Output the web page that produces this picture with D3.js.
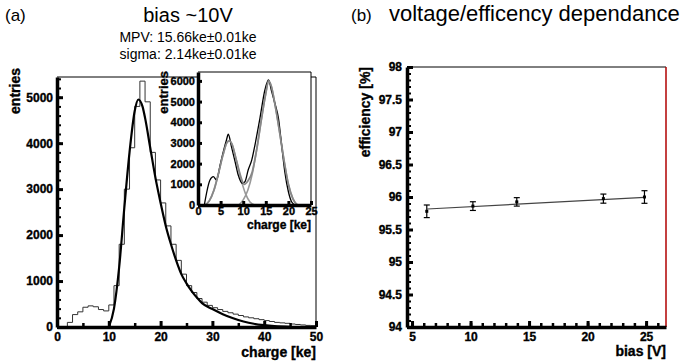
<!DOCTYPE html>
<html>
<head>
<meta charset="utf-8">
<script src="https://cdn.jsdelivr.net/npm/d3@7"></script>
<style>
  body { margin: 0; background: #fff; }
  svg { font-family: "Liberation Sans", Arial, sans-serif; }
  .heavy { font-weight: bold; stroke: #000; stroke-width: 0.35px; }
</style>
</head>
<body>
<svg id="chart" width="684" height="364"></svg>
<script>
// ---- panel (a): charge histogram, 1 ke bins starting at 0 ----
const histCounts = [0, 0, 100, 270, 330, 430, 460, 440, 380, 350,
    480, 900, 1800, 3000, 3900, 4800, 5350, 4900, 3800, 3200,
    2700, 2200, 1800, 1450, 1150, 900, 750, 620, 540, 470,
    420, 380, 340, 310, 280, 250, 220, 200, 180, 160,
    140, 120, 100, 90, 80, 65, 55, 45, 35, 30];

// landau-gauss fit curve
const fitCharge = [10, 11, 12, 13, 14, 15, 15.7, 16.5, 17, 18, 19, 20, 21, 22, 23, 24, 25, 26, 27, 28, 30, 32, 34, 36, 38, 40, 42, 45];
const fitEntries = [0, 400, 1300, 2600, 3800, 4700, 4950, 4800, 4550, 3900, 3250, 2700, 2200, 1800, 1450, 1150, 950, 780, 640, 520, 390, 280, 190, 120, 70, 40, 20, 5];

// inset: measured spectrum + two gaussians + sum
const insetCharge = [1.4, 2.65, 3.4, 4.1, 4.9, 5.6, 6.3, 6.7, 7.4, 8.2, 8.9, 9.8, 10.4, 11.1, 11.9, 12.6, 13.7, 14.8, 15.6, 16.3, 17, 17.8, 18.5, 19.2, 20, 20.7, 21.5];
const insetEntries = [0, 1210, 1370, 1210, 1935, 2580, 3145, 3420, 2820, 2100, 1450, 1050, 1130, 1690, 2180, 2900, 4190, 5560, 6050, 5480, 4920, 4190, 2900, 1610, 640, 160, 0];
const gaus1Charge = [1.5, 2.5, 3.5, 4.5, 5.5, 6.5, 7, 7.5, 8.5, 9.5, 10.5, 11.5, 12.5];
const gaus1Entries = [0, 200, 700, 1500, 2400, 3050, 3100, 2950, 2150, 1250, 550, 150, 0];
const gaus2Charge = [9, 10, 11, 12, 13, 14, 15, 15.6, 16.2, 17, 18, 19, 20, 21, 22];
const gaus2Entries = [0, 250, 700, 1500, 2700, 4100, 5400, 6000, 5750, 4900, 3600, 2200, 1000, 300, 0];
const sumCharge = [1.5, 2.5, 3.5, 4.5, 5.5, 6.5, 7, 7.5, 8.5, 9.5, 10.2, 11, 12, 13, 14, 15, 15.6, 16.2, 17, 18, 19, 20, 21, 22];
const sumEntries = [0, 200, 700, 1500, 2400, 3050, 3100, 2950, 2150, 1350, 1000, 1150, 1600, 2700, 4100, 5400, 6000, 5750, 4900, 3600, 2200, 1000, 300, 0];

// ---- panel (b): efficiency vs bias ----
const biasVolts = [6.26, 10.2, 13.95, 21.35, 24.86];
const efficiency = [95.78, 95.86, 95.925, 95.975, 96.0];
const effError = [0.097, 0.067, 0.065, 0.07, 0.097];
const fitLineBias = [6.3, 24.86];
const fitLineEff = [95.815, 95.995];

const svg = d3.select("#chart");

function styleLabels(sel, fs) {
    sel.selectAll("text")
        .attr("class", "heavy")
        .style("font-size", fs + "px")
        .style("font-family", '"Liberation Sans", Arial, sans-serif')
        .attr("fill", "#000");
}

function drawAxes(g, x, y, opt) {
    // minor ticks first, then major with labels
    g.append("g")
        .attr("transform", `translate(0,${y.range()[0]})`)
        .call(d3.axisBottom(x).tickValues(opt.xMinor).tickSize(-opt.minorLen).tickSizeOuter(0).tickFormat(""))
        .call(s => s.selectAll("line").attr("stroke-width", 2.5))
        .call(s => s.select(".domain").remove());
    g.append("g")
        .attr("transform", `translate(${x.range()[0]},0)`)
        .call(d3.axisLeft(y).tickValues(opt.yMinor).tickSize(-opt.minorLen).tickSizeOuter(0).tickFormat(""))
        .call(s => s.selectAll("line").attr("stroke-width", 2))
        .call(s => s.select(".domain").remove());

    const xa = g.append("g")
        .attr("transform", `translate(0,${y.range()[0]})`)
        .call(d3.axisBottom(x).tickValues(opt.xMajor).tickSize(-opt.majorLen).tickSizeOuter(0)
            .tickPadding(opt.xPad).tickFormat(opt.xFmt));
    xa.selectAll("line").attr("stroke-width", 3);
    xa.select(".domain").attr("stroke-width", 3.5);
    styleLabels(xa, opt.fs);

    const ya = g.append("g")
        .attr("transform", `translate(${x.range()[0]},0)`)
        .call(d3.axisLeft(y).tickValues(opt.yMajor).tickSize(-opt.majorLen).tickSizeOuter(0)
            .tickPadding(opt.yPad).tickFormat(opt.yFmt));
    ya.selectAll("line").attr("stroke-width", 3);
    ya.select(".domain").attr("stroke-width", 3.5);
    styleLabels(ya, opt.fs);
}

function frame(x, y, rightColor) {
    const [x0, x1] = x.range(), [y0, y1] = y.range();
    svg.append("line").attr("x1", x0).attr("x2", x1).attr("y1", y1).attr("y2", y1).attr("stroke", "#000");
    svg.append("line").attr("x1", x1).attr("x2", x1).attr("y1", y1).attr("y2", y0)
        .attr("stroke", rightColor || "#000").attr("stroke-width", rightColor ? 1.5 : 1);
}

function axisTitle(x, y, rot, size, txt) {
    svg.append("text")
        .attr("class", "heavy")
        .attr("transform", `translate(${x},${y})` + (rot ? " rotate(-90)" : ""))
        .attr("text-anchor", "end")
        .style("font-size", size + "px")
        .text(txt);
}

// ================= panel (a) =================
const xA = d3.scaleLinear().domain([0, 50]).range([57, 316]);
const yA = d3.scaleLinear().domain([0, 5440]).range([327, 77]);

frame(xA, yA);

const histPts = histCounts.map((c, i) => [i, c]);
histPts.push([histCounts.length, histCounts[histCounts.length - 1]]);
svg.append("path")
    .datum(histPts)
    .attr("fill", "none")
    .attr("stroke", "#333")
    .attr("stroke-width", 1)
    .attr("d", d3.line().x(d => xA(d[0])).y(d => yA(d[1])).curve(d3.curveStepAfter));

svg.append("path")
    .datum(fitCharge.map((c, i) => [c, fitEntries[i]]))
    .attr("fill", "none")
    .attr("stroke", "#000")
    .attr("stroke-width", 2.2)
    .attr("d", d3.line().x(d => xA(d[0])).y(d => yA(d[1])).curve(d3.curveMonotoneX));

drawAxes(svg.append("g"), xA, yA, {
    xMajor: d3.range(0, 51, 10), xMinor: d3.range(5, 50, 10),
    yMajor: d3.range(0, 5001, 1000), yMinor: d3.range(0, 5440, 200),
    majorLen: 6, minorLen: 4, fs: 12, xPad: 5, yPad: 4,
    xFmt: d3.format("d"), yFmt: d3.format("d")
});

axisTitle(316, 357, false, 14, "charge [ke]");
axisTitle(20, 68, true, 14, "entries");

// inset
const xI = d3.scaleLinear().domain([0, 25]).range([198, 311]);
const yI = d3.scaleLinear().domain([0, 6430]).range([205, 72]);
svg.append("rect").attr("x", 198).attr("y", 72).attr("width", 113).attr("height", 133).attr("fill", "#fff");
frame(xI, yI);

const insetLine = d3.line().x(d => xI(d[0])).y(d => yI(d[1])).curve(d3.curveMonotoneX);
[[gaus1Charge, gaus1Entries], [gaus2Charge, gaus2Entries]].forEach(([cx, cy]) => {
    svg.append("path").datum(cx.map((c, i) => [c, cy[i]]))
        .attr("fill", "none").attr("stroke", "#999").attr("stroke-width", 1.6).attr("d", insetLine);
});
svg.append("path").datum(insetCharge.map((c, i) => [c, insetEntries[i]]))
    .attr("fill", "none").attr("stroke", "#000").attr("stroke-width", 1.3).attr("d", insetLine);
svg.append("path").datum(sumCharge.map((c, i) => [c, sumEntries[i]]))
    .attr("fill", "none").attr("stroke", "#888").attr("stroke-width", 1.8).attr("d", insetLine);

drawAxes(svg.append("g"), xI, yI, {
    xMajor: d3.range(0, 26, 5), xMinor: [],
    yMajor: d3.range(0, 6001, 1000), yMinor: [],
    majorLen: 4, minorLen: 2, fs: 11, xPad: 2, yPad: 3,
    xFmt: d3.format("d"), yFmt: d3.format("d")
});
axisTitle(311, 229, false, 12, "charge [ke]");
axisTitle(168, 71, true, 13, "entries");

// titles
svg.append("text").attr("x", 5).attr("y", 21).style("font-size", "17px").text("(a)");
svg.append("text").attr("x", 188).attr("y", 22).attr("text-anchor", "middle").style("font-size", "20px").text("bias ~10V");
svg.append("text").attr("x", 188).attr("y", 42).attr("text-anchor", "middle").style("font-size", "14px").text("MPV:  15.66ke\u00b10.01ke");
svg.append("text").attr("x", 188).attr("y", 59).attr("text-anchor", "middle").style("font-size", "14px").text("sigma:  2.14ke\u00b10.01ke");

// ================= panel (b) =================
const xB = d3.scaleLinear().domain([4.57, 26.7]).range([407, 666]);
const yB = d3.scaleLinear().domain([94, 98]).range([327, 67]);

frame(xB, yB, "#b00000");

svg.append("path")
    .datum(fitLineBias.map((b, i) => [b, fitLineEff[i]]))
    .attr("fill", "none").attr("stroke", "#444").attr("stroke-width", 1.2)
    .attr("d", d3.line().x(d => xB(d[0])).y(d => yB(d[1])));

const pts = svg.append("g").selectAll("g")
    .data(biasVolts.map((b, i) => ({ b, e: efficiency[i], err: effError[i] })))
    .join("g");
pts.append("line")
    .attr("x1", d => xB(d.b)).attr("x2", d => xB(d.b))
    .attr("y1", d => yB(d.e - d.err)).attr("y2", d => yB(d.e + d.err))
    .attr("stroke", "#000").attr("stroke-width", 1.2);
[-1, 1].forEach(s => {
    pts.append("line")
        .attr("x1", d => xB(d.b) - 3).attr("x2", d => xB(d.b) + 3)
        .attr("y1", d => yB(d.e + s * d.err)).attr("y2", d => yB(d.e + s * d.err))
        .attr("stroke", "#000").attr("stroke-width", 1.2);
});
pts.append("rect")
    .attr("x", d => xB(d.b) - 1.5).attr("y", d => yB(d.e) - 1.5)
    .attr("width", 3).attr("height", 3).attr("fill", "#000");

drawAxes(svg.append("g"), xB, yB, {
    xMajor: d3.range(5, 26, 5), xMinor: d3.range(5, 27, 1),
    yMajor: d3.range(94, 98.01, 0.5), yMinor: d3.range(94, 98.01, 0.1),
    majorLen: 6, minorLen: 4, fs: 12, xPad: 5, yPad: 5,
    xFmt: d3.format("d"), yFmt: d => d3.format("~g")(d)
});

axisTitle(666, 356, false, 14, "bias [V]");
axisTitle(370, 67, true, 14, "efficiency [%]");

svg.append("text").attr("x", 351).attr("y", 21).style("font-size", "17px").text("(b)");
svg.append("text").attr("x", 389).attr("y", 21).style("font-size", "22px").text("voltage/efficency dependance");
</script>
</body>
</html>
